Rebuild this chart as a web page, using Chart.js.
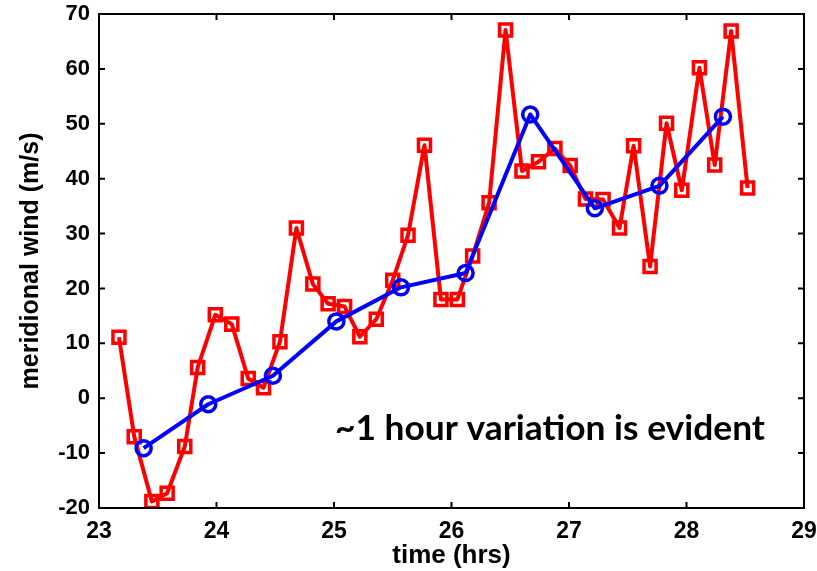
<!DOCTYPE html>
<html>
<head>
<meta charset="utf-8">
<script src="https://cdn.jsdelivr.net/npm/chart.js@4/dist/chart.umd.min.js"></script>
<style>
  body { margin: 0; background: #fff; }
  canvas { display: block; }
</style>
</head>
<body>
<canvas id="windChart" width="817" height="571"></canvas>
<script>
// hourly-ish samples (red) and 1 hour smoothed (blue)
let aRedTime = [
    23.17, 23.30, 23.45, 23.58, 23.73, 23.84, 23.99, 24.13, 24.27, 24.40,
    24.54, 24.68, 24.82, 24.95, 25.09, 25.22, 25.36, 25.50, 25.63, 25.77,
    25.91, 26.05, 26.18, 26.32, 26.46, 26.60, 26.74, 26.88, 27.01, 27.14,
    27.29, 27.43, 27.55, 27.69, 27.83, 27.96, 28.11, 28.24, 28.38, 28.52
];
let aRedWind = [
    11.1, -7.0, -18.8, -17.3, -8.8, 5.6, 15.2, 13.5, 3.6, 1.9,
    10.3, 31.0, 20.8, 17.2, 16.7, 11.2, 14.4, 21.5, 29.7, 46.1,
    18.0, 18.0, 25.9, 35.6, 67.1, 41.4, 43.1, 45.5, 42.4, 36.3,
    36.2, 31.0, 46.0, 24.0, 50.1, 37.9, 60.2, 42.5, 66.9, 38.3
];
let aBlueTime = [23.38, 23.93, 24.48, 25.02, 25.57, 26.12, 26.67, 27.22, 27.77, 28.31];
let aBlueWind = [-9.1, -1.1, 4.1, 14.0, 20.2, 22.8, 51.7, 34.6, 38.7, 51.3];

let xTickLabels = ['23', '24', '25', '26', '27', '28', '29'];
let yTickLabels = ['-20', '-10', '0', '10', '20', '30', '40', '50', '60', '70'];
let noteText = '~1 hour variation is evident';

const redPoints = aRedTime.map((t, i) => ({ x: t, y: aRedWind[i] }));
const bluePoints = aBlueTime.map((t, i) => ({ x: t, y: aBlueWind[i] }));

// MATLAB style box with inward ticks on all four sides
const boxPlugin = {
    id: 'boxPlugin',
    afterDatasetsDraw(chart) {
        const ctx = chart.ctx;
        const a = chart.chartArea;
        const xs = chart.scales.x;
        const ys = chart.scales.y;
        ctx.save();
        ctx.strokeStyle = '#000';
        ctx.lineWidth = 2;
        ctx.strokeRect(a.left, a.top, a.right - a.left, a.bottom - a.top);
        ctx.beginPath();
        xs.ticks.forEach(t => {
            const px = xs.getPixelForValue(t.value);
            ctx.moveTo(px, a.bottom); ctx.lineTo(px, a.bottom - 6);
            ctx.moveTo(px, a.top); ctx.lineTo(px, a.top + 6);
        });
        ys.ticks.forEach(t => {
            const py = ys.getPixelForValue(t.value);
            ctx.moveTo(a.left, py); ctx.lineTo(a.left + 6, py);
            ctx.moveTo(a.right, py); ctx.lineTo(a.right - 6, py);
        });
        ctx.stroke();
        ctx.restore();
    },
    afterDraw(chart) {
        // the annotation text
        const ctx = chart.ctx;
        ctx.save();
        ctx.font = 'bold 35px Lato';
        ctx.fillStyle = '#000';
        ctx.textBaseline = 'alphabetic';
        const w = ctx.measureText(noteText).width;
        ctx.translate(335, 440);
        ctx.scale(430 / w, 1);
        ctx.fillText(noteText, 0, 0);
        ctx.restore();
    }
};

const ctx = document.getElementById('windChart').getContext('2d');
const myChart = new Chart(ctx, {
    type: 'scatter',
    data: {
        datasets: [{
            label: '1 hour average',
            data: bluePoints,
            showLine: true,
            borderColor: '#0000ff',
            backgroundColor: 'rgba(0,0,0,0)',
            borderWidth: 4,
            borderJoinStyle: 'round',
            pointStyle: 'circle',
            pointRadius: 7.5,
            pointBorderWidth: 3.5,
            pointBorderColor: '#0000ff',
            pointBackgroundColor: 'rgba(0,0,0,0)',
            order: 0
        }, {
            label: 'meridional wind',
            data: redPoints,
            showLine: true,
            borderColor: '#ff0000',
            backgroundColor: 'rgba(0,0,0,0)',
            borderWidth: 4,
            borderJoinStyle: 'round',
            pointStyle: 'rect',
            pointRadius: 8.5,
            pointBorderWidth: 3.5,
            pointBorderColor: '#ff0000',
            pointBackgroundColor: 'rgba(0,0,0,0)',
            order: 1
        }]
    },
    options: {
        responsive: false,
        animation: false,
        layout: { padding: { top: 14, right: 13, left: 0, bottom: 0 } },
        scales: {
            x: {
                type: 'linear',
                min: 23,
                max: 29,
                afterBuildTicks: s => { s.ticks = xTickLabels.map(v => ({ value: Number(v) })); },
                afterFit: s => { s.height = 63; s.paddingLeft = 0; s.paddingRight = 0; },
                grid: { display: false, drawTicks: false },
                border: { display: false },
                ticks: {
                    color: '#000',
                    padding: 10,
                    maxRotation: 0,
                    font: { family: 'Liberation Sans', weight: 'bold', size: 23 }
                },
                title: {
                    display: true,
                    text: 'time (hrs)',
                    color: '#000',
                    padding: { top: 0, bottom: 0 },
                    font: { family: 'Liberation Sans', weight: 'bold', size: 26 }
                }
            },
            y: {
                min: -20,
                max: 70,
                afterBuildTicks: s => { s.ticks = yTickLabels.map(v => ({ value: Number(v) })); },
                afterFit: s => { s.width = 99; s.paddingTop = 0; s.paddingBottom = 0; },
                grid: { display: false, drawTicks: false },
                border: { display: false },
                ticks: {
                    color: '#000',
                    padding: 9,
                    font: { family: 'Liberation Sans', weight: 'bold', size: 22 }
                },
                title: {
                    display: true,
                    text: 'meridional wind (m/s)',
                    color: '#000',
                    padding: { top: 16, bottom: 0 },
                    font: { family: 'Liberation Sans', weight: 'bold', size: 25 }
                }
            }
        },
        plugins: {
            legend: { display: false },
            tooltip: { enabled: false }
        }
    },
    plugins: [boxPlugin]
});
</script>
</body>
</html>
